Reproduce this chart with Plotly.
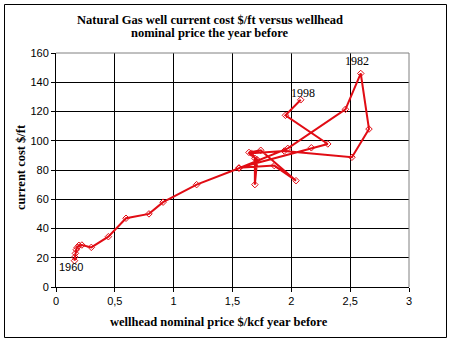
import plotly.graph_objects as go

# wellhead nominal price the year before ($/kcf) and current well cost ($/ft), time order 1960 -> 1998
price = [0.157, 0.160, 0.165, 0.172, 0.180, 0.195, 0.220, 0.300, 0.445, 0.595, 0.790, 0.910,
         1.195, 1.555, 1.970, 2.460, 2.590, 2.660, 2.515, 1.940, 1.660, 1.690, 1.690, 1.710,
         1.640, 1.740, 2.040, 1.855, 1.555, 2.170, 2.310, 1.950, 2.080]
cost = [18.0, 20.5, 23.0, 25.5, 27.0, 28.5, 28.7, 27.1, 34.4, 47.0, 50.0, 58.0,
        70.0, 81.2, 94.8, 121.5, 146.0, 108.0, 88.7, 93.0, 91.5, 88.0, 70.0, 87.0,
        92.0, 93.5, 72.7, 83.0, 81.5, 95.2, 97.8, 117.4, 128.0]

x_tickvals = [0, 0.5, 1, 1.5, 2, 2.5, 3]
x_ticktext = ["0", "0,5", "1", "1,5", "2", "2,5", "3"]
y_tickvals = [0, 20, 40, 60, 80, 100, 120, 140, 160]

labels = [("1960", 0, -3, -6, "Liberation Sans", 11),
          ("1982", 16, -4, 12, "Liberation Serif", 12),
          ("1998", 32, 2, 7, "Liberation Serif", 12)]

RED = "rgb(225,12,20)"
serif_b = dict(family="Liberation Serif", size=12.5, color="black")

fig = go.Figure()
fig.add_trace(go.Scatter(
    x=price, y=cost, mode="lines+markers",
    line=dict(color=RED, width=2),
    marker=dict(symbol="diamond-open", size=5, color=RED, line=dict(width=1, color=RED)),
    hoverinfo="x+y", showlegend=False))

L, R, T, B = 56, 409, 53, 287
W, H = R - L, B - T

def px(xp):
    return (xp - L) / W

def py(yp):
    return (B - yp) / H

annotations = []
for text, idx, dx, dy, fam, size in labels:
    annotations.append(dict(x=price[idx], y=cost[idx], xref="x", yref="y", text=text,
                            showarrow=False, xshift=dx, yshift=dy,
                            font=dict(family=fam, size=size, color="black")))
annotations += [
    dict(x=px(210), y=py(20), xref="paper", yref="paper", showarrow=False,
         text="<b>Natural Gas well current cost $/ft versus wellhead</b>", font=serif_b,
         xanchor="center", yanchor="middle"),
    dict(x=px(210), y=py(33), xref="paper", yref="paper", showarrow=False,
         text="<b>nominal price the year before</b>", font=serif_b,
         xanchor="center", yanchor="middle"),
    dict(x=px(219), y=py(322), xref="paper", yref="paper", showarrow=False,
         text="<b>wellhead nominal price $/kcf year before</b>", font=serif_b,
         xanchor="center", yanchor="middle"),
    dict(x=px(21), y=py(167), xref="paper", yref="paper", showarrow=False,
         text="<b>current cost $/ft</b>", font=serif_b, textangle=-90,
         xanchor="center", yanchor="middle"),
]

shapes = [
    dict(type="rect", xref="paper", yref="paper", x0=px(4.5), x1=px(446.5), y0=py(337.5), y1=py(4.5),
         line=dict(color="black", width=1), layer="above"),
    dict(type="line", xref="paper", yref="paper", x0=0, x1=1, y0=1, y1=1,
         line=dict(color="#808080", width=1), layer="above"),
    dict(type="line", xref="paper", yref="paper", x0=1, x1=1, y0=0, y1=1,
         line=dict(color="#808080", width=1), layer="above"),
]

tickfont = dict(family="Liberation Sans", size=11, color="black")
fig.update_layout(
    width=452, height=342,
    margin=dict(l=L, r=452 - R, t=T, b=342 - B, pad=0),
    paper_bgcolor="white", plot_bgcolor="white",
    annotations=annotations, shapes=shapes,
    xaxis=dict(range=[0, 3], tickvals=x_tickvals, ticktext=x_ticktext,
               showgrid=True, gridcolor="black", gridwidth=1,
               showline=True, linecolor="black", linewidth=1,
               ticks="outside", ticklen=4, tickcolor="black", tickfont=tickfont,
               zeroline=False, fixedrange=True),
    yaxis=dict(range=[0, 160], tickvals=y_tickvals,
               showgrid=True, gridcolor="black", gridwidth=1,
               showline=True, linecolor="black", linewidth=1,
               ticks="outside", ticklen=4, tickcolor="black", tickfont=tickfont,
               zeroline=False, fixedrange=True),
)

fig.write_html("out.html", config={"displayModeBar": False})
